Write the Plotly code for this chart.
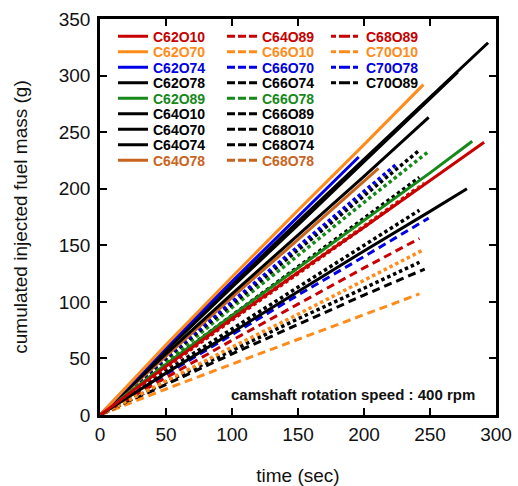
import plotly.graph_objects as go

# ---------------- data ----------------
t_C62O10 = [0, 50, 100, 150, 200, 250, 291]
m_C62O10 = [0, 43, 85, 126, 166, 207, 241]
t_C62O70 = [0, 50, 100, 150, 200, 245]
m_C62O70 = [0, 62, 122, 181, 239, 292]
t_C62O74 = [0, 50, 100, 150, 196]
m_C62O74 = [0, 60, 118, 175, 228]
t_C62O78 = [0, 50, 100, 150, 200, 250, 294]
m_C62O78 = [0, 58, 115, 171, 226, 281, 329]
t_C62O89 = [0, 50, 100, 150, 200, 250, 282]
m_C62O89 = [0, 45, 88, 130, 172, 214, 242]
t_C64O10 = [0, 50, 100, 150, 200, 250, 271]
m_C64O10 = [0, 57, 113, 168, 224, 280, 303]
t_C64O70 = [0, 50, 100, 150, 200, 249]
m_C64O70 = [0, 54, 107, 159, 211, 263]
t_C64O74 = [0, 50, 100, 150, 200, 250, 278]
m_C64O74 = [0, 37, 73, 109, 145, 180, 200]
t_C64O78 = [0, 50, 100, 150, 211]
m_C64O78 = [0, 52, 104, 155, 218]
t_C64O89 = [0, 50, 100, 150, 200, 240]
m_C64O89 = [0, 42, 84, 125, 166, 200]
t_C66O10 = [0, 50, 100, 150, 200, 245]
m_C66O10 = [0, 30, 60, 89, 119, 146]
t_C66O70 = [0, 50, 100, 150, 200, 225]
m_C66O70 = [0, 51, 100, 149, 198, 222]
t_C66O74 = [0, 50, 100, 150, 200, 242]
m_C66O74 = [0, 50, 98, 146, 194, 234]
t_C66O78 = [0, 50, 100, 150, 200, 249]
m_C66O78 = [0, 48, 95, 141, 188, 233]
t_C66O89 = [0, 50, 100, 150, 200, 242]
m_C66O89 = [0, 45, 88, 131, 174, 210]
t_C68O10 = [0, 50, 100, 150, 200, 242]
m_C68O10 = [0, 39, 76, 113, 150, 181]
t_C68O74 = [0, 50, 100, 150, 200, 242]
m_C68O74 = [0, 29, 57, 85, 112, 135]
t_C68O78 = [0, 50, 100, 150, 200, 246]
m_C68O78 = [0, 43, 85, 126, 167, 205]
t_C68O89 = [0, 50, 100, 150, 200, 242]
m_C68O89 = [0, 33, 66, 98, 130, 156]
t_C70O10 = [0, 50, 100, 150, 200, 242]
m_C70O10 = [0, 23, 45, 67, 89, 107]
t_C70O78 = [0, 50, 100, 150, 200, 249]
m_C70O78 = [0, 36, 71, 106, 140, 174]
t_C70O89 = [0, 50, 100, 150, 200, 246]
m_C70O89 = [0, 27, 54, 80, 106, 129]

x_ticks = [0, 50, 100, 150, 200, 250, 300]
y_ticks = [0, 50, 100, 150, 200, 250, 300, 350]

# ---------------- styles ----------------
RED = "#c80000"
ORANGE = "#ff8c1a"
BLUE = "#0000e6"
BLACK = "#000000"
GREEN = "#16891a"
BROWN = "#c8641e"

PLOT_DASH = {"solid": "solid", "dash": "3.5px,3px", "ldash": "8px,5px"}
LEG_DASH = {"solid": "solid", "dash": "8px,3px", "ldash": "5px,3px,11px,3px"}
WIDTH = {"solid": 3, "dash": 3.5, "ldash": 3}

series = [
    ("C62O10", t_C62O10, m_C62O10, RED, "solid"),
    ("C62O70", t_C62O70, m_C62O70, ORANGE, "solid"),
    ("C62O74", t_C62O74, m_C62O74, BLUE, "solid"),
    ("C62O78", t_C62O78, m_C62O78, BLACK, "solid"),
    ("C62O89", t_C62O89, m_C62O89, GREEN, "solid"),
    ("C64O10", t_C64O10, m_C64O10, BLACK, "solid"),
    ("C64O70", t_C64O70, m_C64O70, BLACK, "solid"),
    ("C64O74", t_C64O74, m_C64O74, BLACK, "solid"),
    ("C64O78", t_C64O78, m_C64O78, BROWN, "solid"),
    ("C64O89", t_C64O89, m_C64O89, RED, "dash"),
    ("C66O10", t_C66O10, m_C66O10, ORANGE, "dash"),
    ("C66O70", t_C66O70, m_C66O70, BLUE, "dash"),
    ("C66O74", t_C66O74, m_C66O74, BLACK, "dash"),
    ("C66O78", t_C66O78, m_C66O78, GREEN, "dash"),
    ("C66O89", t_C66O89, m_C66O89, BLACK, "dash"),
    ("C68O10", t_C68O10, m_C68O10, BLACK, "dash"),
    ("C68O74", t_C68O74, m_C68O74, BLACK, "dash"),
    ("C68O78", t_C68O78, m_C68O78, BROWN, "dash"),
    ("C68O89", t_C68O89, m_C68O89, RED, "ldash"),
    ("C70O10", t_C70O10, m_C70O10, ORANGE, "ldash"),
    ("C70O78", t_C70O78, m_C70O78, BLUE, "ldash"),
    ("C70O89", t_C70O89, m_C70O89, BLACK, "ldash"),
]

# ---------------- figure ----------------
W, H = 518, 486
ML, MR, MT, MB = 100, 22, 19, 71
PW, PH = W - ML - MR, H - MT - MB

fig = go.Figure()

# data lines (draw in reverse so first-listed lines are on top)
for name, t, m, col, sty in reversed(series):
    fig.add_trace(go.Scatter(
        x=t, y=m, mode="lines", showlegend=False, hoverinfo="skip",
        line=dict(color=col, width=WIDTH[sty], dash=PLOT_DASH[sty]),
    ))

# legend: one small legend per entry, in 3 columns
col_text_x = [154, 263, 367]
row0_y, row_dy = 36.7, 15.5
layout_legends = {}
for i, (name, t, m, col, sty) in enumerate(series):
    if i < 9:
        c, r = 0, i
    elif i < 18:
        c, r = 1, i - 9
    else:
        c, r = 2, i - 18
    lid = "legend" if i == 0 else f"legend{i + 1}"
    fig.add_trace(go.Scatter(
        x=[None], y=[None], mode="lines", legend=lid,
        name=f"<b><span style='color:{col}'>{name}</span></b>",
        line=dict(color=col, width=3, dash=LEG_DASH[sty]),
    ))
    xpx = col_text_x[c] - 41
    ypx = row0_y + row_dy * r
    layout_legends[lid] = dict(
        x=(xpx - ML) / PW, xanchor="left",
        y=(MT + PH - ypx) / PH, yanchor="middle",
        bgcolor="rgba(0,0,0,0)", borderwidth=0,
        font=dict(family="Liberation Sans, Arial, sans-serif", size=14, color="black"),
        orientation="v",
    )

axis_common = dict(
    showgrid=False, zeroline=False, showline=True, linecolor="black", linewidth=2.5,
    mirror="ticks", ticks="inside", ticklen=7, tickwidth=2, tickcolor="black",
    tickfont=dict(family="Liberation Sans, Arial, sans-serif", size=19, color="#111"),
)

fig.update_layout(
    width=W, height=H,
    margin=dict(l=ML, r=MR, t=MT, b=MB, autoexpand=False),
    paper_bgcolor="white", plot_bgcolor="white",
    font=dict(family="Liberation Sans, Arial, sans-serif", color="#111"),
    xaxis=dict(range=[0, 300], tickvals=x_ticks, automargin=False,
               title=dict(text="time (sec)", font=dict(size=19), standoff=33),
               **axis_common),
    yaxis=dict(range=[0, 350], tickvals=y_ticks, automargin=False, ticklabelstandoff=3,
               title=dict(text="cumulated injected fuel mass (g)", font=dict(size=19), standoff=27),
               **axis_common),
    annotations=[dict(
        x=192, y=17.7, xref="x", yref="y", showarrow=False,
        text="<b>camshaft rotation speed : 400 rpm</b>",
        font=dict(family="Liberation Sans, Arial, sans-serif", size=15, color="#111"),
    )],
    **layout_legends,
)

fig.write_html("out.html")
